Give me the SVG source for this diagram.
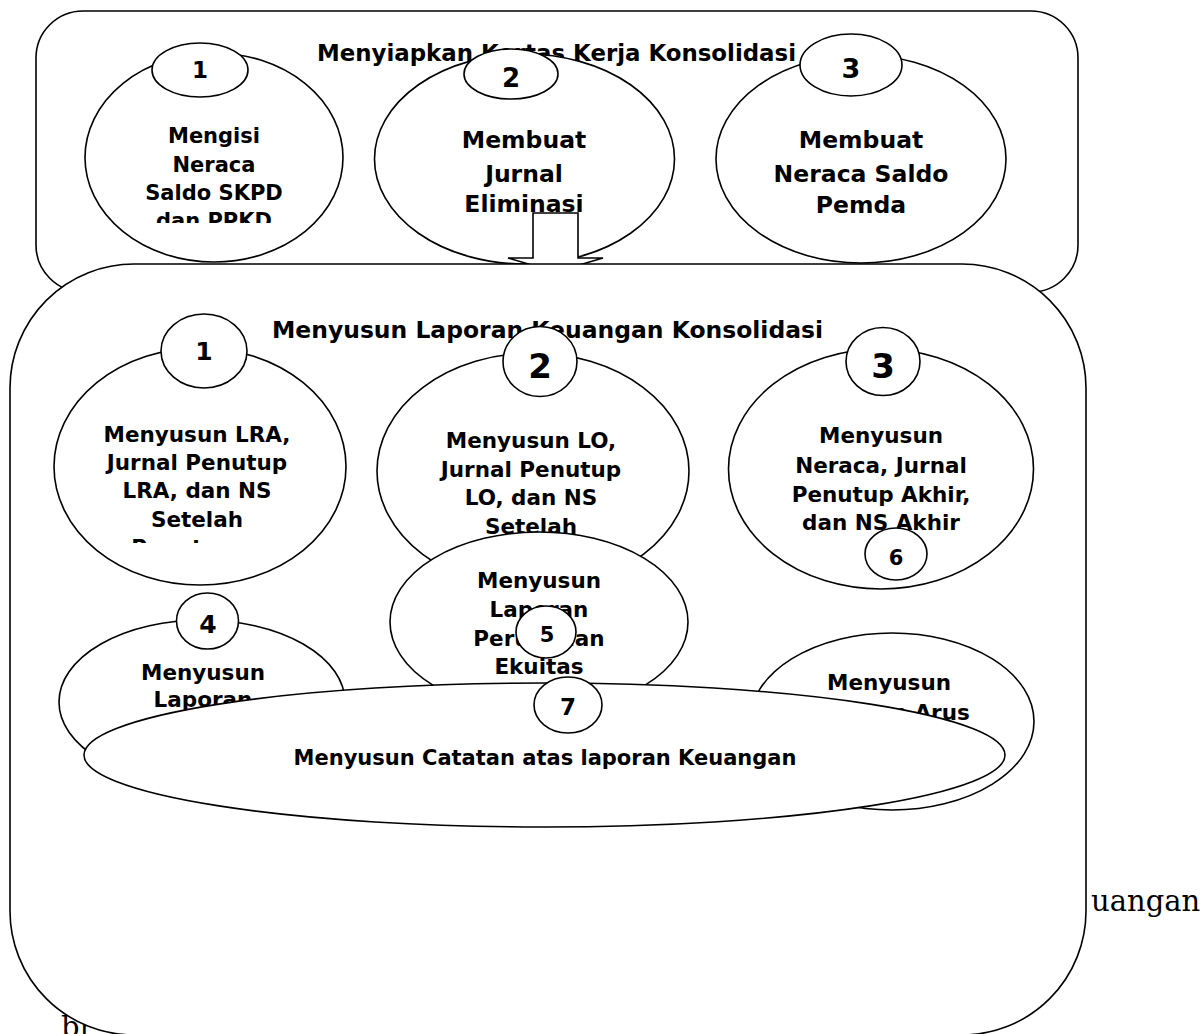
<svg xmlns="http://www.w3.org/2000/svg" width="1204" height="1034" viewBox="0 0 1204 1034">
<style>
.sh{fill:#fff;stroke:#000;stroke-width:1.6}
.t{font-family:"DejaVu Sans",Verdana,sans-serif;font-weight:bold;fill:#000;text-anchor:middle}
.s{font-family:"DejaVu Serif","Liberation Serif",serif;fill:#000;font-size:29px}
.f21{font-size:21px}
.f215{font-size:21.5px}
.f235{font-size:23.5px}
</style>
<defs>
<clipPath id="clipTop1"><rect x="80" y="110" width="270" height="113"/></clipPath>
<clipPath id="clipLow1"><rect x="50" y="400" width="300" height="143"/></clipPath>
</defs>
<rect width="1204" height="1034" fill="#fff"/>

<g id="page-text">
<text class="s" x="61" y="1037">br</text>
<text class="s" x="1091" y="911">uangan</text>
</g>

<g id="box-menyiapkan">
<rect class="sh" x="36" y="11" width="1042" height="281" rx="47" ry="47"/>
<text class="t" x="556.5" y="61" font-size="23" textLength="479" lengthAdjust="spacingAndGlyphs">Menyiapkan Kertas Kerja Konsolidasi</text>
</g>

<g id="node-top-1">
<ellipse class="sh" cx="214" cy="157.5" rx="129" ry="104.5"/>
<g clip-path="url(#clipTop1)" class="t f21">
<text x="214" y="143">Mengisi</text>
<text x="214" y="172">Neraca</text>
<text x="214" y="200">Saldo SKPD</text>
<text x="214" y="228">dan PPKD</text>
</g>
<ellipse class="sh" cx="200" cy="70" rx="48" ry="27"/>
<text class="t" x="200" y="78" font-size="23">1</text>
</g>

<g id="node-top-2">
<ellipse class="sh" cx="524.5" cy="159" rx="150" ry="105"/>
<g class="t f235">
<text x="524" y="148">Membuat</text>
<text x="524" y="182">Jurnal</text>
<text x="524" y="212">Eliminasi</text>
</g>
<ellipse class="sh" cx="511" cy="74" rx="47" ry="25"/>
<text class="t" x="511" y="87" font-size="26">2</text>
</g>

<g id="node-top-3">
<ellipse class="sh" cx="861" cy="159" rx="145" ry="104"/>
<g class="t f235">
<text x="861" y="148">Membuat</text>
<text x="861" y="182">Neraca Saldo</text>
<text x="861" y="213">Pemda</text>
</g>
<ellipse class="sh" cx="851" cy="65" rx="51" ry="31"/>
<text class="t" x="851" y="78" font-size="27">3</text>
</g>

<g id="connectors">
<polygon class="sh" points="533,213 578,213 578,258 603,258 555.5,272 508,258 533,258"/>
</g>

<g id="box-menyusun">
<rect class="sh" x="10" y="264" width="1076" height="771" rx="124" ry="124"/>
<text class="t" x="547.5" y="338" font-size="23" textLength="551" lengthAdjust="spacingAndGlyphs">Menyusun Laporan Keuangan Konsolidasi</text>
</g>

<g id="node-low-1">
<ellipse class="sh" cx="200" cy="466.5" rx="146" ry="118.5"/>
<g clip-path="url(#clipLow1)" class="t f215">
<text x="197" y="442">Menyusun LRA,</text>
<text x="197" y="470">Jurnal Penutup</text>
<text x="197" y="498">LRA, dan NS</text>
<text x="197" y="527">Setelah</text>
<text x="197" y="555">Penutupan</text>
</g>
<ellipse class="sh" cx="204" cy="351" rx="43" ry="37"/>
<text class="t" x="204" y="360" font-size="25">1</text>
</g>

<g id="node-low-2">
<ellipse class="sh" cx="533" cy="471" rx="156" ry="118"/>
<g class="t f215">
<text x="531" y="448">Menyusun LO,</text>
<text x="531" y="477">Jurnal Penutup</text>
<text x="531" y="505">LO, dan NS</text>
<text x="531" y="534">Setelah</text>
</g>
<ellipse class="sh" cx="540" cy="361.5" rx="37" ry="35"/>
<text class="t" x="540" y="378" font-size="34">2</text>
</g>

<g id="node-low-3">
<ellipse class="sh" cx="881" cy="469" rx="152.5" ry="120"/>
<g class="t f215">
<text x="881" y="443">Menyusun</text>
<text x="881" y="473">Neraca, Jurnal</text>
<text x="881" y="502">Penutup Akhir,</text>
<text x="881" y="530">dan NS Akhir</text>
</g>
<ellipse class="sh" cx="883" cy="361.5" rx="37" ry="34"/>
<text class="t" x="883" y="378" font-size="34">3</text>
</g>

<g id="node-low-6-marker">
<ellipse class="sh" cx="896" cy="554" rx="31" ry="26"/>
<text class="t" x="896" y="565" font-size="21">6</text>
</g>

<g id="node-low-5">
<ellipse class="sh" cx="539" cy="622" rx="149" ry="90"/>
<g class="t f215">
<text x="539" y="588">Menyusun</text>
<text x="539" y="617">Laporan</text>
<text x="539" y="646">Perubahan</text>
<text x="539" y="674">Ekuitas</text>
</g>
<ellipse class="sh" cx="546" cy="632" rx="30" ry="26"/>
<text class="t" x="547" y="642" font-size="21">5</text>
</g>

<g id="node-low-4">
<ellipse class="sh" cx="202" cy="702" rx="143" ry="82"/>
<g class="t f215">
<text x="203" y="680">Menyusun</text>
<text x="203" y="707">Laporan</text>
</g>
<ellipse class="sh" cx="207.5" cy="621" rx="31" ry="28"/>
<text class="t" x="208" y="633" font-size="25">4</text>
</g>

<g id="node-low-arus">
<ellipse class="sh" cx="892" cy="721.5" rx="142" ry="88.5"/>
<g class="t f215">
<text x="889" y="690">Menyusun</text>
<text x="889" y="720">Laporan Arus</text>
</g>
</g>

<g id="node-low-7">
<ellipse class="sh" cx="544.5" cy="755" rx="460.5" ry="72"/>
<text class="t f21" x="545" y="765">Menyusun Catatan atas laporan Keuangan</text>
<ellipse class="sh" cx="568" cy="705" rx="34" ry="28"/>
<text class="t" x="568" y="715" font-size="23">7</text>
</g>
</svg>
